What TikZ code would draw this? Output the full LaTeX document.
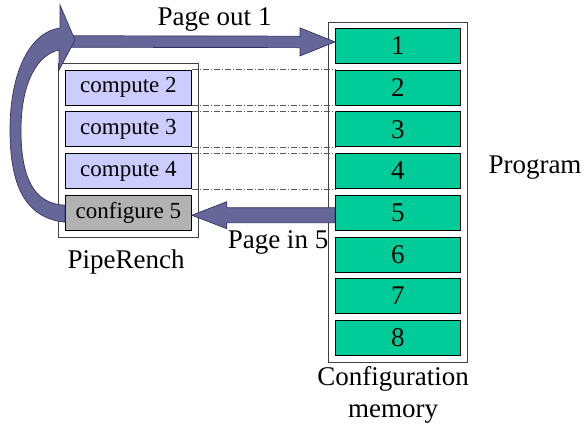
\documentclass[tikz,border=0pt]{standalone}
\usepackage{fontspec}
\setmainfont{Liberation Serif}
\newfontfamily\figfont{Liberation Serif}
\usetikzlibrary{calc}

\definecolor{memgreen}{HTML}{00CC99}
\definecolor{stagefill}{HTML}{CCCCFF}
\definecolor{cfggray}{HTML}{B2B2B2}
\definecolor{arrowfill}{HTML}{666699}
\definecolor{arrowline}{HTML}{333366}

\begin{document}
\begin{tikzpicture}[x=1bp,y=-1bp,
        font=\figfont\fontsize{27bp}{32bp}\selectfont,
        frame/.style={draw=black!75,fill=white,line width=0.7bp,inner sep=0pt,anchor=north west},
        cell/.style={draw=black,line width=0.8bp,minimum width=125bp,minimum height=35bp,
                     inner sep=0pt,anchor=north west},
        memcell/.style={cell,fill=memgreen},
        stage/.style={cell,minimum width=126bp,fill=stagefill,font=\figfont\fontsize{23bp}{27bp}\selectfont},
        cfgstage/.style={stage,fill=cfggray},
        blockarrow/.style={fill=arrowfill,draw=arrowline,line width=0.7bp,line join=miter},
        guide/.style={draw=black!65,line width=0.5bp,dash pattern=on 6bp off 2bp on 1bp off 2bp}
        ]
    \useasboundingbox (0,0) rectangle (585,425);

    % Rahmen
    \node[frame,minimum width=139bp,minimum height=340bp] (memory) at (328,22) {};
    \node[frame,minimum width=140bp,minimum height=174bp] (piperench) at (58,63) {};

    % Speicherzeilen
    \foreach \i in {1,...,8}
        \node[memcell] (m\i) at (335,{28+41.7*(\i-1)}) {\i};

    % Stufen
    \foreach \i in {2,3,4}
        \node[stage] (c\i) at (65,{28+41.7*(\i-1)}) {compute \i};
    \node[cfgstage] (cfg5) at (65,{28+41.7*4}) {configure 5};

    % Hilfslinien
    \foreach \i in {2,3,4}{
        \draw[guide] (c\i.north east) -- (m\i.north west);
        \draw[guide] (c\i.south east) -- (m\i.south west);
    }

    % Pfeile
    \coordinate (looptip) at (75,40);
    \coordinate (outtip) at ([yshift=4bp]m1.west);
    \coordinate (intip) at ([yshift=-2.5bp]cfg5.east);

    \filldraw[blockarrow] (outtip) -- ++(-35,-14) -- ++(0,8.25)
        -- ($(looptip)+(-5,-4.25)$) -- ++(0,11.5)
        -- ($(outtip)+(-35,5.75)$) -- ++(0,8.25) -- cycle;

    \filldraw[blockarrow] (intip) -- ++(35,-13.5) -- ++(0,6)
        -- ($(m5.west)+(0,-5)$) -- ++(0,15)
        -- ($(intip)+(35,7.5)$) -- ++(0,6) -- cycle;

    \filldraw[blockarrow] ($(cfg5.west)+(0,9.5)$)
        .. controls (25,218) and (10,185) .. (10,130)
        .. controls (10,72) and (30,32) .. (60,28)
        -- (60,5) -- (looptip) -- (59,70) -- (59,50)
        .. controls (36,55) and (21,85) .. (21,130)
        .. controls (21,180) and (35,204) .. ($(cfg5.west)+(0,-7.5)$) -- cycle;

    % Beschriftungen
    \node[anchor=base,inner sep=0pt] (pageout) at (214.5,25) {Page out 1};
    \node[anchor=base,inner sep=0pt] (pagein) at (278,248) {Page in 5};
    \node[anchor=base,inner sep=0pt] (prlabel) at (126,268) {PipeRench};
    \node[anchor=base,inner sep=0pt] (program) at (535,173) {Program};
    \node[anchor=north,inner sep=0pt,align=center] (memlabel) at (393,366.5)
        {Configuration\\memory};

\end{tikzpicture}
\end{document}
